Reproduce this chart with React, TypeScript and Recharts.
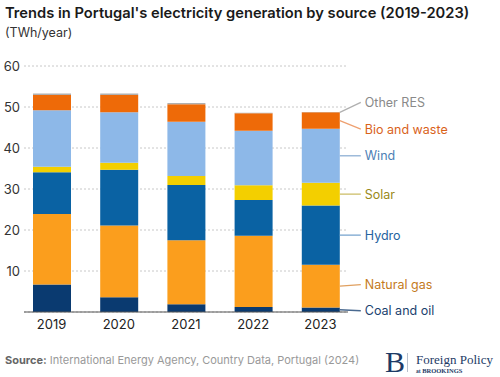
import React from 'react';
import { BarChart, Bar, XAxis, YAxis, CartesianGrid } from 'recharts';

const years = ['2019', '2020', '2021', '2022', '2023'];
const coalOil = [6.7, 3.6, 1.9, 1.2, 1.1];
const naturalGas = [17.2, 17.5, 15.6, 17.4, 10.4];
const hydro = [10.2, 13.6, 13.5, 8.7, 14.5];
const solar = [1.3, 1.7, 2.2, 3.6, 5.5];
const wind = [13.8, 12.3, 13.2, 13.3, 13.2];
const bioWaste = [3.7, 4.2, 4.3, 4.3, 4.0];
const otherRes = [0.4, 0.4, 0.3, 0.1, 0.1];
const yTicks = [10, 20, 30, 40, 50, 60];

const data = years.map((year, i) => ({
  year,
  coal: coalOil[i],
  gas: naturalGas[i],
  hydro: hydro[i],
  solar: solar[i],
  wind: wind[i],
  bio: bioWaste[i],
  other: otherRes[i],
}));

// series styling + where the side label sits relative to the 2023 segment
const series = [
  { key: 'coal', name: 'Coal and oil', fill: '#0a3a70', text: '#1b3f6e', line: '#4a6a90', mode: 'center', shift: 1 },
  { key: 'gas', name: 'Natural gas', fill: '#fb9e1d', text: '#c47a1c', line: '#e0a060', mode: 'center', shift: -1.5 },
  { key: 'hydro', name: 'Hydro', fill: '#0a62a3', text: '#2563a0', line: '#7aa6cf', mode: 'center', shift: 0 },
  { key: 'solar', name: 'Solar', fill: '#f3cf00', text: '#9a8a1a', line: '#cdbf6a', mode: 'center', shift: 0 },
  { key: 'wind', name: 'Wind', fill: '#8db8e8', text: '#4d80b5', line: '#8fb0d4', mode: 'center', shift: 0 },
  { key: 'bio', name: 'Bio and waste', fill: '#ee6a08', text: '#d9621a', line: '#eea070', mode: 'center', shift: 8.5 },
  { key: 'other', name: 'Other RES', fill: '#b0b0b0', text: '#8a8a8a', line: '#b0b0b0', mode: 'bottom', shift: -10 },
];

const font = 'Inter, "Noto Sans", sans-serif';
const serif = '"Liberation Serif", "DejaVu Serif", serif';

const makeLabel = (s: typeof series[number]) => (props: any) => {
  const { x, y, width, height, index } = props;
  if (index !== years.length - 1) return null;
  const x0 = Number(x) + Number(width);
  const sy = s.mode === 'bottom' ? Number(y) + Number(height) : Number(y) + Number(height) / 2;
  const ty = sy + s.shift;
  return (
    <g>
      <line x1={x0} y1={sy} x2={x0 + 21} y2={ty} stroke={s.line} strokeWidth={1.3} />
      <text x={x0 + 25} y={ty} dy={4.5} fill={s.text} fontSize={12.5} fontFamily={font}>
        {s.name}
      </text>
    </g>
  );
};

const YTick = ({ y, payload }: any) => (
  <text x={20} y={y} dy={4.6} textAnchor="end" fill="#333" fontSize={13} fontFamily={font}>
    {payload.value}
  </text>
);

export default function App() {
  return (
    <div style={{ position: 'absolute', left: 0, top: 0, width: 500, height: 377, background: '#fff' }}>
      <BarChart
        width={500}
        height={377}
        data={data}
        margin={{ top: 66, right: 152, bottom: 35, left: 4 }}
      >
        <CartesianGrid vertical={false} stroke="#c8c8c8" strokeDasharray="2 2" />
        <XAxis
          dataKey="year"
          height={30}
          tickLine={false}
          axisLine={{ stroke: '#555', strokeWidth: 1.2 }}
          padding={{ left: -6, right: -6 }}
          tick={{ fill: '#222', fontSize: 13, fontFamily: font }}
          tickMargin={2}
        />
        <YAxis width={20} domain={[0, 60]} ticks={yTicks} axisLine={false} tickLine={false} tick={<YTick />} />
        {series.map((s) => (
          <Bar
            key={s.key}
            dataKey={s.key}
            stackId="a"
            fill={s.fill}
            barSize={38}
            isAnimationActive={false}
            label={makeLabel(s)}
          />
        ))}
      </BarChart>
      <svg width={500} height={377} style={{ position: 'absolute', left: 0, top: 0, pointerEvents: 'none' }}>
        <text x={5} y={18} fontSize={14.7} fontWeight={600} fill="#1a1a1a" fontFamily={font}>
          Trends in Portugal's electricity generation by source (2019-2023)
        </text>
        <text x={5} y={36.5} fontSize={12.5} fill="#333" fontFamily={font}>
          (TWh/year)
        </text>
        <text x={5} y={364} fontSize={11} fill="#999" fontFamily={font}>
          <tspan fontWeight={700} fill="#666">Source:</tspan> International Energy Agency, Country Data, Portugal (2024)
        </text>
        <text x={385} y={372} fontSize={30} fill="#1d3a66" fontFamily={serif}>
          B
        </text>
        <line x1={407.5} y1={353} x2={407.5} y2={372} stroke="#b8c0cc" strokeWidth={1} />
        <text x={416} y={363.5} fontSize={13} fill="#1d3a66" fontFamily={serif}>
          Foreign Policy
        </text>
        <text x={416} y={373} fontSize={6.5} fill="#1d3a66" fontWeight={700} fontFamily={serif}>
          <tspan fontSize={5.5}>at</tspan> BROOKINGS
        </text>
      </svg>
    </div>
  );
}
